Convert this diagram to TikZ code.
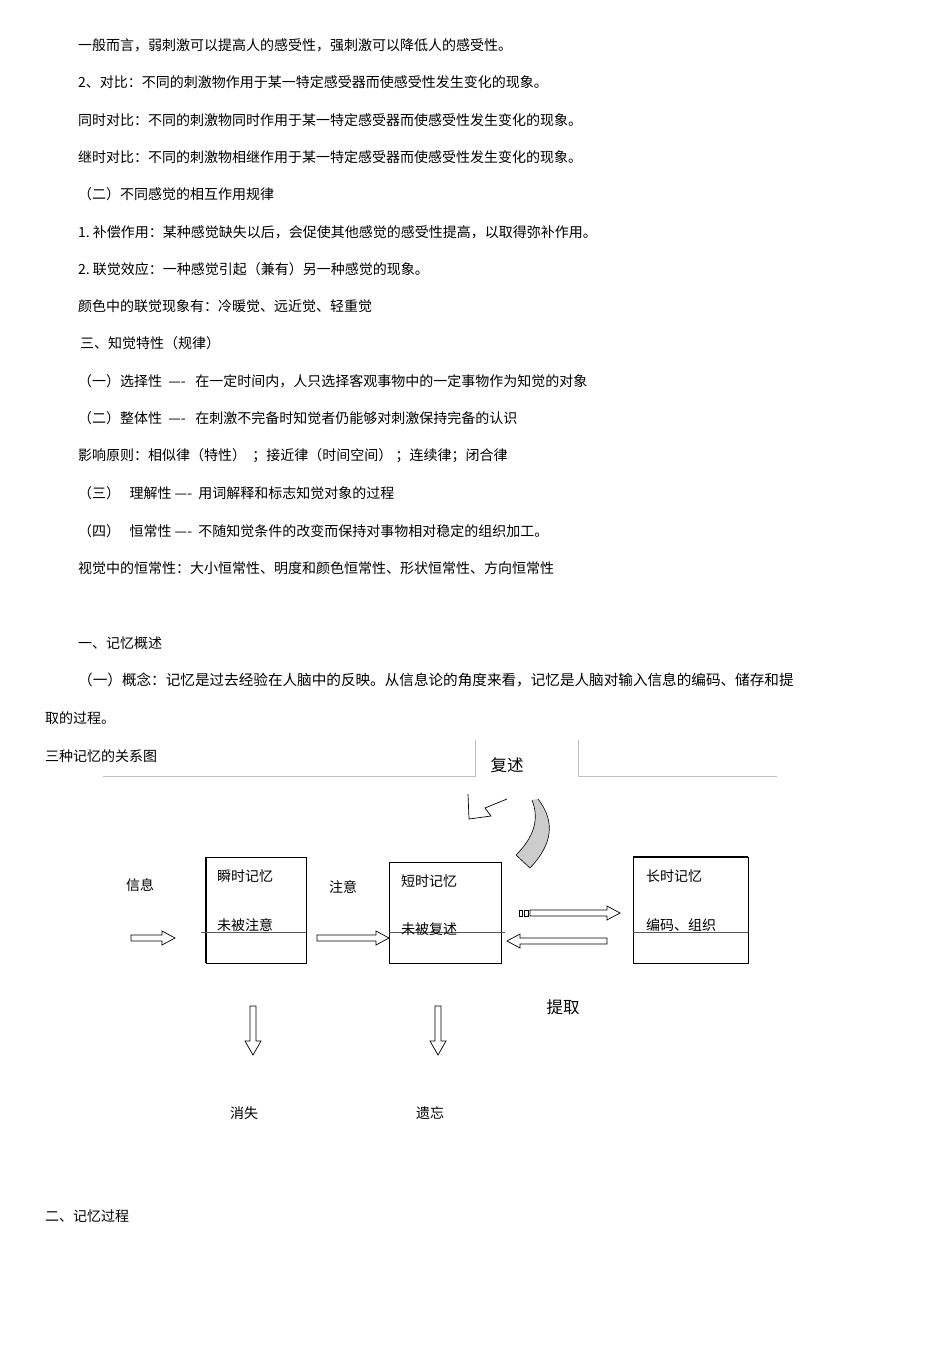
\documentclass[tikz,border=0pt]{standalone}
\usepackage{fontspec}
\setmainfont{Noto Sans CJK SC}
\begin{document}
\begin{tikzpicture}[x=1pt,y=-1pt,
  txt/.style={anchor=west,inner sep=0pt,font=\fontsize{14}{16}\selectfont},
  big/.style={inner sep=0pt,font=\fontsize{16.5}{18}\selectfont},
  box/.style={draw,line width=0.8pt},
  hol/.style={draw,line width=0.7pt,fill=white}]
\useasboundingbox (0,0) rectangle (950,1345);
% horizontal hollow arrow: x1 x2 y (direction by sign)
\newcommand{\hollowR}[3]{\draw[hol] (#1,#3-3) -- (#2-13,#3-3) -- (#2-13,#3-7) -- (#2,#3) -- (#2-13,#3+7) -- (#2-13,#3+3) -- (#1,#3+3) -- cycle;}
\newcommand{\hollowL}[3]{\draw[hol] (#1,#3-3) -- (#2+13,#3-3) -- (#2+13,#3-7) -- (#2,#3) -- (#2+13,#3+7) -- (#2+13,#3+3) -- (#1,#3+3) -- cycle;}
\newcommand{\hollowD}[3]{\draw[hol] (#1-3,#2) -- (#1-3,#3-14) -- (#1-8,#3-14) -- (#1,#3) -- (#1+8,#3-14) -- (#1+3,#3-14) -- (#1+3,#2) -- cycle;}
% text
\node[txt] (t1) at (78,45) {一般而言，弱刺激可以提高人的感受性，强刺激可以降低人的感受性。};
\node[txt] (t2) at (78,82) {2、对比：不同的刺激物作用于某一特定感受器而使感受性发生变化的现象。};
\node[txt] (t3) at (78,120) {同时对比：不同的刺激物同时作用于某一特定感受器而使感受性发生变化的现象。};
\node[txt] (t4) at (78,157) {继时对比：不同的刺激物相继作用于某一特定感受器而使感受性发生变化的现象。};
\node[txt] (t5) at (78,194) {（二）不同感觉的相互作用规律};
\node[txt] (t6) at (78,232) {1.\ 补偿作用：某种感觉缺失以后，会促使其他感觉的感受性提高，以取得弥补作用。};
\node[txt] (t7) at (78,269) {2.\ 联觉效应：一种感觉引起（兼有）另一种感觉的现象。};
\node[txt] (t8) at (78,306) {颜色中的联觉现象有：冷暖觉、远近觉、轻重觉};
\node[txt] (t9) at (80,343) {三、知觉特性（规律）};
\node[txt] (t10) at (78,381) {（一）选择性\ \ ----\ \ \ 在一定时间内，人只选择客观事物中的一定事物作为知觉的对象};
\node[txt] (t11) at (78,418) {（二）整体性\ \ ----\ \ \ 在刺激不完备时知觉者仍能够对刺激保持完备的认识};
\node[txt] (t12) at (78,456) {影响原则：相似律（特性）\ \ ；接近律（时间空间）\ ；连续律；闭合律};
\node[txt] (t13) at (78,493) {（三）\ \ \ 理解性\ ----\ \ 用词解释和标志知觉对象的过程};
\node[txt] (t14) at (78,531) {（四）\ \ \ 恒常性\ ----\ \ 不随知觉条件的改变而保持对事物相对稳定的组织加工。};
\node[txt] (t15) at (78,568) {视觉中的恒常性：大小恒常性、明度和颜色恒常性、形状恒常性、方向恒常性};
\node[txt] (t16) at (78,643) {一、记忆概述};
\node[txt,font=\fontsize{14.6}{16}\selectfont] (t17) at (78,680) {（一）概念：记忆是过去经验在人脑中的反映。从信息论的角度来看，记忆是人脑对输入信息的编码、储存和提};
\node[txt] (t18) at (45,718) {取的过程。};
\node[txt] (t19) at (45,756) {三种记忆的关系图};
\node[txt] (t20) at (45,1216) {二、记忆过程};
% top frame lines
\draw[gray!50,line width=0.7pt] (103,776) -- (475,776) -- (475,740);
\draw[gray!50,line width=0.7pt] (578,740) -- (578,776) -- (777,776);
\node[big] (fs) at (507,765) {复述};
% bent arrow outline
\draw[line width=0.7pt,line join=miter] (468,794) -- (469,819) -- (491,816) -- (485,808) -- (507,799);
% curved gray arrow
\fill[gray!40] (538,799) .. controls (556,822) and (552,845) .. (530,868) -- (516,855) .. controls (533,838) and (540,820) .. (532,800) -- cycle;
\draw[line width=0.6pt] (538,799) .. controls (556,822) and (552,845) .. (530,868) -- (516,855) .. controls (533,838) and (540,820) .. (532,800);
% boxes
\draw[box] (206,857) rectangle (306,963);
\draw[line width=1.6pt] (206,857) -- (206,963);
\draw[gray!70!black,line width=0.8pt] (201,932) -- (306,932);
\node[txt] (b1a) at (217,876) {瞬时记忆};
\node[txt] (b1b) at (217,925) {未被注意};
\draw[box] (389,862) rectangle (501,963);
\draw[gray!70!black,line width=0.8pt] (389,932) -- (505,932);
\node[txt] (b2a) at (401,881) {短时记忆};
\node[txt] (b2b) at (401,929) {未被复述};
\draw[box] (633,857) rectangle (748,963);
\draw[line width=1.8pt] (633,857) -- (748,857);
\draw[gray!70!black,line width=0.8pt] (633,932) -- (748,932);
\node[txt] (b3a) at (646,876) {长时记忆};
\node[txt] (b3b) at (646,925) {编码、组织};
\node[txt] (xx) at (126,885) {信息};
\node[txt] (zy) at (329,887) {注意};
% hollow arrows
\hollowR{131}{175}{938}
\hollowR{317}{389}{938}
\hollowR{530}{620}{913}
\draw[line width=0.6pt] (519,910) rectangle (522,916) (524,910) rectangle (528,916);
\hollowL{607}{507}{941}
\node[big] (tq) at (563,1007) {提取};
\hollowD{253}{1006}{1055}
\hollowD{438}{1006}{1055}
\node[txt] (xs) at (230,1113) {消失};
\node[txt] (yw) at (416,1113) {遗忘};
\end{tikzpicture}
\end{document}
